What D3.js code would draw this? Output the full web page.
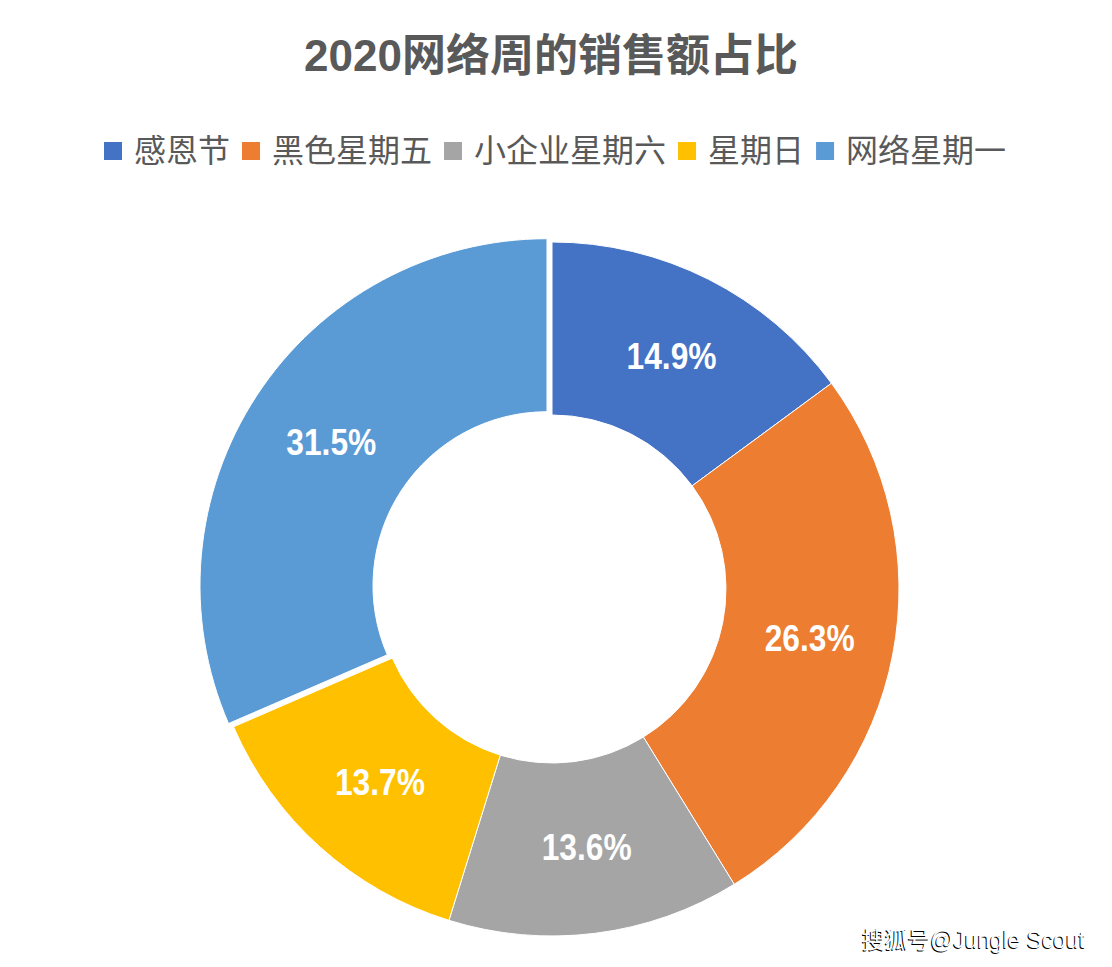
<!DOCTYPE html>
<html>
<head>
<meta charset="utf-8">
<script src="https://cdn.jsdelivr.net/npm/d3@7"></script>
<style>
  html, body { margin: 0; padding: 0; background: #ffffff; }
  svg { display: block; }
</style>
</head>
<body>
<svg id="chart" width="1112" height="967"></svg>
<script>
// ---- data ----
const categories = ["感恩节", "黑色星期五", "小企业星期六", "星期日", "网络星期一"];
const values = [14.9, 26.3, 13.6, 13.7, 31.5];
const labels = ["14.9%", "26.3%", "13.6%", "13.7%", "31.5%"];
const colors = ["#4472C4", "#ED7D31", "#A5A5A5", "#FFC000", "#5B9BD5"];
const titleText = "2020网络周的销售额占比";
const watermark = "搜狐号@Jungle Scout";

// ---- layout ----
const W = 1112, H = 967;
const cx = 552, cy = 589;
const outerR = 347, innerR = 174;
const explodeIndex = 4, explodeDist = 6;
const latin = "'Liberation Sans', Arial, 'Noto Sans CJK SC', sans-serif";
const cjk = "'Noto Sans CJK SC', 'Liberation Sans', sans-serif";

const svg = d3.select("#chart");
svg.append("rect").attr("width", W).attr("height", H).attr("fill", "#fff");

// title
svg.append("text")
  .attr("x", 551).attr("y", 71)
  .attr("text-anchor", "middle")
  .attr("font-family", latin)
  .attr("font-weight", "bold")
  .attr("font-size", 44)
  .attr("fill", "#595959")
  .text(titleText);

// legend
const legendFont = 32, sq = 18, gapSqText = 12, gapItems = 12;
const legend = svg.append("g").attr("transform", "translate(104,0)");
let lx = 0;
categories.forEach((c, i) => {
  const g = legend.append("g").attr("transform", `translate(${lx},0)`);
  g.append("rect").attr("x", 0).attr("y", 142).attr("width", sq).attr("height", sq)
    .attr("fill", colors[i]);
  const t = g.append("text")
    .attr("x", sq + gapSqText).attr("y", 162)
    .attr("font-family", cjk)
    .attr("font-size", legendFont)
    .attr("fill", "#595959")
    .text(c);
  const w = t.node().getComputedTextLength();
  lx += sq + gapSqText + w + gapItems;
});

// donut
const pie = d3.pie().value(d => d).sort(null).startAngle(0).endAngle(2 * Math.PI);
const arcs = pie(values);
const arc = d3.arc().innerRadius(innerR).outerRadius(outerR);

const g = svg.append("g").attr("transform", `translate(${cx},${cy})`);

function offset(d, i) {
  if (i !== explodeIndex) return [0, 0];
  const a = (d.startAngle + d.endAngle) / 2;
  return [Math.sin(a) * explodeDist, -Math.cos(a) * explodeDist];
}

g.selectAll("path.slice")
  .data(arcs)
  .join("path")
  .attr("class", "slice")
  .attr("d", arc)
  .attr("fill", (d, i) => colors[i])
  .attr("stroke", "#ffffff")
  .attr("stroke-width", 1)
  .attr("transform", (d, i) => { const o = offset(d, i); return `translate(${o[0]},${o[1]})`; });

g.selectAll("text.lbl")
  .data(arcs)
  .join("text")
  .attr("class", "lbl")
  .each(function(d, i) {
    const c = arc.centroid(d);
    const o = offset(d, i);
    d3.select(this)
      .attr("x", c[0] + o[0] + 2)
      .attr("y", c[1] + o[1])
      .attr("text-anchor", "middle")
      .attr("dominant-baseline", "central")
      .attr("font-family", latin)
      .attr("font-weight", "bold")
      .attr("font-size", 36)
      .attr("fill", "#ffffff")
      .attr("textLength", 90)
      .attr("lengthAdjust", "spacingAndGlyphs")
      .text(labels[i]);
  });

// watermark
const wm = svg.append("g");
[[861, 949, "#000"], [862, 948, "#ffffff"]].forEach(([x, y, f]) => {
  wm.append("text")
    .attr("x", x).attr("y", y)
    .attr("font-family", latin).attr("font-size", 23)
    .attr("fill", f)
    .attr("textLength", 223)
    .attr("lengthAdjust", "spacingAndGlyphs")
    .text(watermark);
});
</script>
</body>
</html>
